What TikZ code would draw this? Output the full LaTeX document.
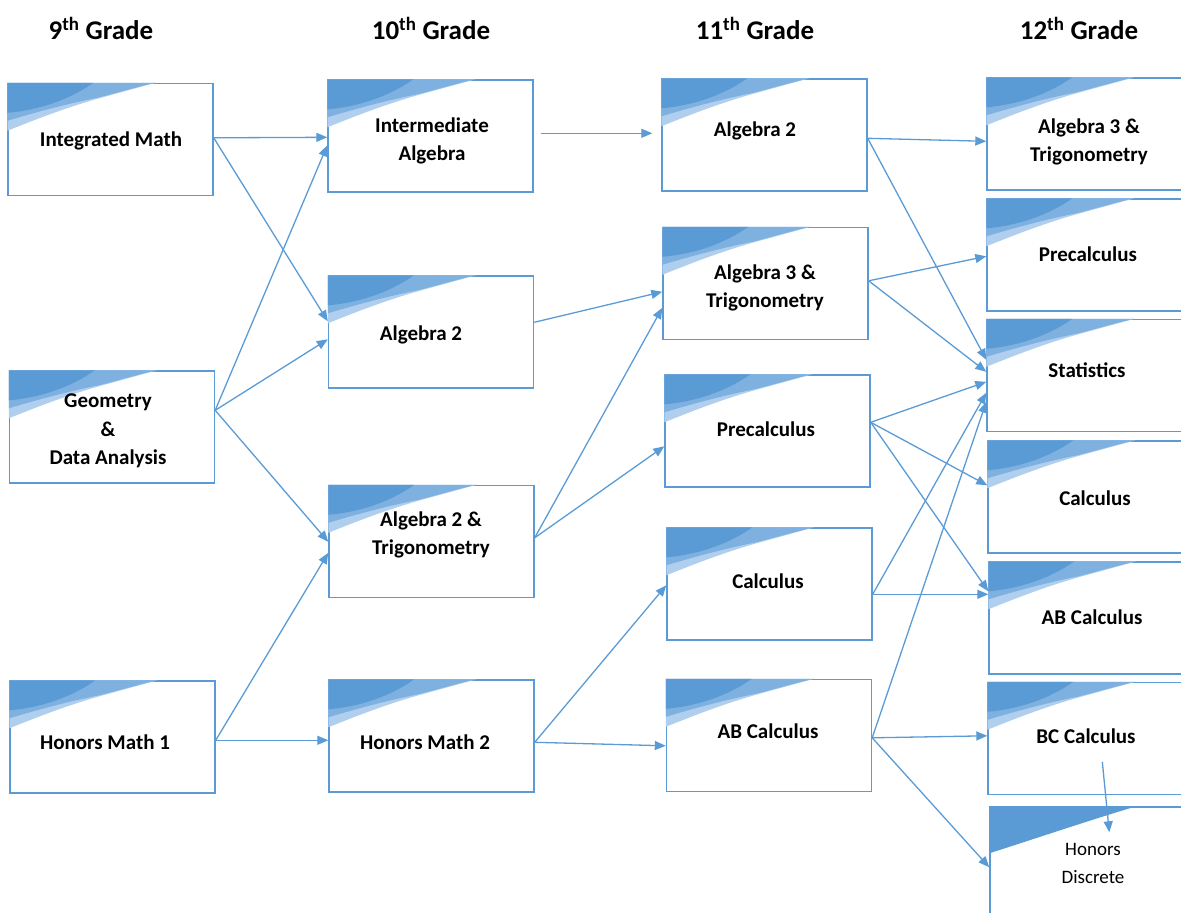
\documentclass[tikz,border=0pt]{standalone}
\usepackage{fontspec}
\setmainfont{Carlito}
\usetikzlibrary{arrows.meta,calc}

\definecolor{lineblue}{HTML}{5B9BD5}
\definecolor{wedgedark}{HTML}{5B9BD5}
\definecolor{wedgemid}{HTML}{7EB0E0}
\definecolor{wedgelight}{HTML}{B0CFEE}

% layered corner ribbon in the top left corner of a course box
\newcommand\layeredcorner[1]{%
  \begin{scope}[shift={(#1.north west)}]
    \fill[wedgelight] (0,0) -- (0,48) .. controls (25,38) and (55,26) .. (90,16) -- (148,0) -- cycle;
    \fill[wedgemid] (0,0) -- (0,38) .. controls (30,29) and (60,21) .. (90,15)
      .. controls (110,10) and (130,4) .. (148,0) -- cycle;
    \fill[wedgedark] (0,0) -- (0,30) .. controls (35,27) and (65,15) .. (86,0) -- cycle;
  \end{scope}}
% single solid corner ribbon
\newcommand\solidcorner[1]{%
  \begin{scope}[shift={(#1.north west)}]
    \fill[wedgedark] (0,0) -- (0,47) .. controls (50,31) and (100,14) .. (147,0) -- cycle;
  \end{scope}}

% connector between two boxes: offsets measured down from the box tops
\newcommand\link[5][]{\draw[arr,#1] ($(#2.north east)+(0,#3)$) -- ($(#4.north west)+(0,#5)$);}

\tikzset{
  course/.style={draw=lineblue, line width=1.4pt, fill=white,
    minimum width=205pt, minimum height=112pt, inner sep=0pt},
  lbl/.style={font=\fontsize{21}{27.5}\selectfont\bfseries, align=center, inner sep=0pt},
  thinlbl/.style={font=\fontsize{19}{28}\selectfont, align=center, inner sep=0pt},
  head/.style={font=\fontsize{27}{32}\selectfont\bfseries, inner sep=0pt},
  arr/.style={draw=lineblue, line width=1.3pt, -{Triangle[length=11pt,width=9pt]}},
}

\begin{document}
\begin{tikzpicture}[x=1pt,y=-1pt]
\useasboundingbox (0,0) rectangle (1181,913);
\clip (0,0) rectangle (1181,913);

% grade headings
\node[head] (h9)  at (101,28)  {9\textsuperscript{th} Grade};
\node[head] (h10) at (431,28)  {10\textsuperscript{th} Grade};
\node[head] (h11) at (755,28)  {11\textsuperscript{th} Grade};
\node[head] (h12) at (1079,28) {12\textsuperscript{th} Grade};

% 9th grade
\node[course] (im)  at (110.5,139.5) {};
\node[course] (gda) at (112,427) {};
\node[course] (hm1) at (112.5,737) {};
% 10th grade
\node[course] (ia)  at (430.5,136) {};
\node[course] (atwob) at (431,332) {};
\node[course] (atwot) at (431.5,541.5) {};
\node[course] (hm2) at (431.5,736) {};
% 11th grade
\node[course] (atwoc) at (764.5,135) {};
\node[course] (athc) at (765.5,283.5) {};
\node[course] (pcc) at (767.5,431) {};
\node[course] (cac) at (769.5,584) {};
\node[course] (abc) at (769,735.5) {};
% 12th grade
\node[course] (athd) at (1089.5,134) {};
\node[course] (pcd) at (1089.5,255) {};
\node[course] (st)  at (1089.5,375.5) {};
\node[course] (cad) at (1090.5,497) {};
\node[course] (abd) at (1091.5,618) {};
\node[course] (bc)  at (1090.5,738.5) {};
\node[course] (hd) at (1092.5,863) {};

% corner ribbons
\foreach \b in {im,gda,hm1,ia,atwob,atwot,hm2,atwoc,athc,pcc,cac,abc,athd,pcd,st,cad,abd,bc}
  {\layeredcorner{\b}}
\solidcorner{hd}

% course titles
\node[lbl] (im-t)  at (111,141) {Integrated Math};
\node[lbl,font=\fontsize{21}{28.5}\selectfont\bfseries] (gda-t) at (108,431) {Geometry\\\&\\Data Analysis};
\node[lbl] (hm1-t) at (105,742) {Honors Math 1};
\node[lbl] (ia-t)  at (432,141) {Intermediate\\Algebra};
\node[lbl] (atwob-t) at (421,335) {Algebra 2};
\node[lbl] (atwot-t) at (431,535) {Algebra 2 \&\\Trigonometry};
\node[lbl] (hm2-t) at (425,742) {Honors Math 2};
\node[lbl] (atwoc-t) at (755,131) {Algebra 2};
\node[lbl] (athc-t) at (765,288) {Algebra 3 \&\\Trigonometry};
\node[lbl] (pcc-t) at (766,429) {Precalculus};
\node[lbl] (cac-t) at (768,581) {Calculus};
\node[lbl] (abc-t) at (768,731) {AB Calculus};
\node[lbl] (athd-t) at (1089,142) {Algebra 3 \&\\Trigonometry};
\node[lbl] (pcd-t) at (1088,254) {Precalculus};
\node[lbl] (st-t)  at (1087,370) {Statistics};
\node[lbl] (cad-t) at (1095,498) {Calculus};
\node[lbl] (abd-t) at (1092,617) {AB Calculus};
\node[lbl] (bc-t)  at (1086,736) {BC Calculus};
\node[thinlbl] (hd-t) at (1093,863) {Honors\\Discrete};

% 9th -> 10th
\link{im}{55}{ia}{58}
\link{im}{55}{atwob}{46}
\link{gda}{40}{ia}{66}
\link{gda}{40}{atwob}{64}
\link{gda}{40}{atwot}{57}
\link{hm1}{60}{atwot}{68}
\link{hm1}{60}{hm2}{61}
% 10th -> 11th
\link[shorten <=7pt, shorten >=9pt]{ia}{54}{atwoc}{55}
\link{atwob}{47}{athc}{65}
\link{atwot}{53}{athc}{81}
\link{atwot}{53}{pcc}{72}
\link{hm2}{63}{cac}{58}
\link{hm2}{63}{abc}{67}
% 11th -> 12th
\link{atwoc}{60}{athd}{64}
\link{atwoc}{60}{st}{41}
\link{athc}{54}{pcd}{58}
\link{athc}{54}{st}{53}
\link{pcc}{48}{st}{63}
\link{pcc}{48}{cad}{45}
\link{pcc}{48}{abd}{30}
\link{cac}{67}{st}{74}
\link{cac}{67}{abd}{33}
\link{abc}{59}{st}{83}
\link{abc}{59}{bc}{54}
\link{abc}{59}{hd}{61}
% within 12th grade
\draw[arr] ($(bc.north west)+(115,80)$) -- ($(hd.north west)+(120,26)$);
\end{tikzpicture}
\end{document}
